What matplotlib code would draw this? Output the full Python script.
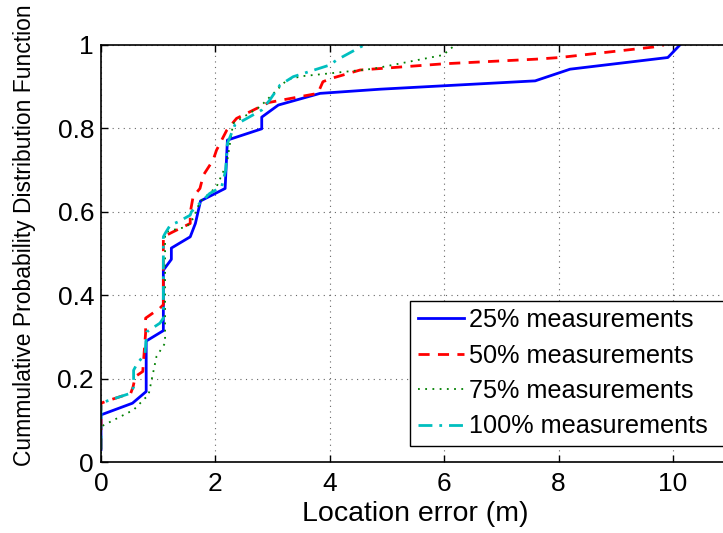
import matplotlib.pyplot as plt

plt.rcParams['font.family'] = ['Liberation Sans', 'DejaVu Sans']

# courbe 25 %
err_25 = [0.0, 0.0, 0.55, 0.79, 0.79, 1.09, 1.09, 1.23, 1.23, 1.56, 1.65, 1.74, 2.17, 2.21,
          2.81, 2.81, 3.1, 3.83, 4.88, 7.59, 8.2, 9.91, 10.12]
cdf_25 = [0.03, 0.113, 0.141, 0.169, 0.29, 0.315, 0.46, 0.486, 0.513, 0.54, 0.572, 0.626, 0.656, 0.772,
          0.799, 0.827, 0.856, 0.884, 0.894, 0.914, 0.942, 0.970, 1.0]

# courbe 50 %
err_50 = [0.0, 0.0, 0.12, 0.52, 0.56, 0.6, 0.73, 0.78, 0.78, 1.03, 1.09, 1.09, 1.26, 1.56, 1.56,
          1.61, 1.73, 1.79, 1.96, 2.02, 2.2, 2.37, 2.93, 3.79, 3.88, 4.03, 4.53, 6.0, 7.6, 8.02,
          9.65, 9.84]
cdf_50 = [0.03, 0.141, 0.147, 0.165, 0.18, 0.205, 0.217, 0.31, 0.345, 0.369, 0.377, 0.54, 0.552,
          0.572, 0.598, 0.636, 0.656, 0.688, 0.724, 0.748, 0.796, 0.824, 0.862, 0.884, 0.912, 0.92,
          0.94, 0.955, 0.966, 0.970, 0.995, 1.0]

# courbe 75 %
err_75 = [0.0, 0.0, 0.57, 0.77, 0.83, 0.97, 1.12, 1.12, 1.24, 1.5, 1.61, 1.73, 2.02, 2.2, 2.31,
          2.78, 3.25, 3.5, 4.0, 4.76, 5.98, 6.19]
cdf_75 = [0.02, 0.085, 0.125, 0.153, 0.16, 0.253, 0.285, 0.55, 0.556, 0.564, 0.584, 0.624, 0.66,
          0.716, 0.812, 0.852, 0.916, 0.925, 0.932, 0.943, 0.976, 1.0]

# courbe 100 %
err_100 = [0.0, 0.0, 0.12, 0.52, 0.57, 0.57, 0.62, 0.77, 0.8, 1.03, 1.09, 1.09, 1.12, 1.21, 1.35,
           1.56, 1.58, 1.9, 2.11, 2.18, 2.21, 2.34, 2.55, 2.81, 2.95, 3.13, 3.36, 4.0, 4.12, 4.6]
cdf_100 = [0.03, 0.141, 0.147, 0.165, 0.18, 0.22, 0.233, 0.26, 0.312, 0.333, 0.345, 0.54, 0.548,
           0.568, 0.576, 0.592, 0.6, 0.644, 0.66, 0.7, 0.764, 0.808, 0.824, 0.844, 0.868, 0.904,
           0.924, 0.952, 0.964, 1.0]

labels = ['25% measurements', '50% measurements', '75% measurements', '100% measurements']
x_ticks = [0, 2, 4, 6, 8, 10]
y_ticks = [0, 0.2, 0.4, 0.6, 0.8, 1]
y_ticklabels = ['0', '0.2', '0.4', '0.6', '0.8', '1']

fig = plt.figure(figsize=(7.23, 5.33), dpi=100)
# l'axe dépasse un peu à droite, comme dans l'image d'origine (coupée)
ax = fig.add_axes([101 / 723, 71 / 533, 11 * 57.2 / 723, 417 / 533])

ax.plot(err_25, cdf_25, color=(0, 0, 1), lw=2.0, label=labels[0])
ax.plot(err_50, cdf_50, color=(1, 0, 0), lw=2.0, ls=(0, (4, 3)), label=labels[1])
ax.plot(err_75, cdf_75, color=(0, 0.5, 0), lw=1.3, ls=(0, (1, 3)), label=labels[2])
ax.plot(err_100, cdf_100, color=(0, 0.75, 0.75), lw=2.0, ls=(0, (5, 2.5, 1, 2.5)), label=labels[3])

ax.set_xlim(0, 11)
ax.set_ylim(0, 1)
ax.set_xticks(x_ticks)
ax.set_yticks(y_ticks)
ax.set_yticklabels(y_ticklabels)
ax.grid(True, color='0.4', ls=(0, (1, 4)), lw=0.8)
ax.tick_params(direction='in', labelsize=19, length=5, top=True, right=True, width=1)
ax.tick_params(axis='x', pad=7)
ax.tick_params(axis='y', pad=5)
for s in ax.spines.values():
    s.set_linewidth(1.2)

ax.set_xlabel('Location error (m)', fontsize=20.5, labelpad=4)
fig.text(25 / 723, 1 - 235 / 533, 'Cummulative Probability Distribution Function',
         rotation=90, fontsize=16.5, ha='center', va='center')

# légende coupée par le bord droit, comme dans l'original
leg = ax.legend(loc='lower left', bbox_to_anchor=(410 / 723, 87 / 533, 330 / 723, 143 / 533),
                bbox_transform=fig.transFigure, mode='expand', borderaxespad=0, fancybox=False,
                edgecolor='black', framealpha=1, fontsize=18.2, handlelength=1.85,
                handletextpad=0.2, labelspacing=0.45, borderpad=0.3)
leg.get_frame().set_linewidth(1.0)

fig.savefig('out.png', dpi=100)
